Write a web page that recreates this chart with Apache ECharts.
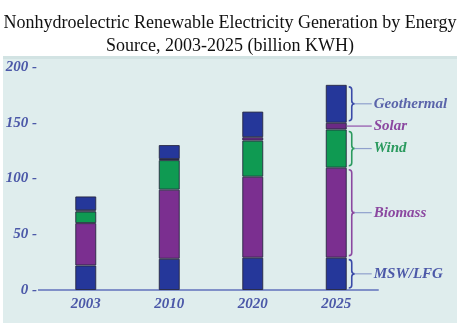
<!DOCTYPE html>
<html><head><meta charset="utf-8">
<script src="https://cdn.jsdelivr.net/npm/echarts@6/dist/echarts.min.js"></script>
<style>html,body{margin:0;padding:0;background:#fff}#c{width:460px;height:325px}</style>
</head><body><div id="c"></div>
<script>
var years = ['2003', '2010', '2020', '2025'];
var mswLfg = [22, 28, 29, 29];
var biomass = [38, 62, 72.6, 80.7];
var wind = [10.4, 26.5, 32.4, 34.3];
var solar = [1, 1, 3, 6];
var geothermal = [12.5, 12.5, 23, 34];
var yTicks = [0, 50, 100, 150, 200];
var sourceNames = ['MSW/LFG', 'Biomass', 'Wind', 'Solar', 'Geothermal'];

var seriesData = [mswLfg, biomass, wind, solar, geothermal];
var barColors = ['#25379a', '#7b2f90', '#0f9a52', '#6b2a85', '#25379a'];
var labelColors = ['#4b58a8', '#8b48a0', '#2a9a5e', '#8b48a0', '#5a64aa'];
var braceColors = ['#3a4aa8', '#8b48a0', '#2a9a5e', '#8b48a0', '#3a4aa8'];

var lastIdx = years.length - 1;
var braceData = [];
var cum = 0;
for (var i = 0; i < seriesData.length; i++) {
  var v = seriesData[i][lastIdx];
  braceData.push([lastIdx, cum, cum + v, i]);
  cum += v;
}

var chart = echarts.init(document.getElementById('c'));
var series = seriesData.map(function (arr, i) {
  return {
    name: sourceNames[i], type: 'bar', stack: 's', barWidth: 21,
    data: arr,
    itemStyle: { color: barColors[i], borderColor: 'rgba(35,35,60,0.85)', borderWidth: 1 },
    silent: true
  };
});
series.push({
  type: 'custom', clip: false, silent: true, z: 5,
  data: braceData,
  renderItem: function (params, api) {
    var cat = api.value(0), lo = api.value(1), hi = api.value(2), k = api.value(3);
    var pLo = api.coord([cat, lo]);
    var pHi = api.coord([cat, hi]);
    var xBar = pLo[0] + 10.5;
    var x0 = xBar + 2;
    var yMid = (pLo[1] + pHi[1]) / 2;
    var yTop = pHi[1] + 2, yBot = pLo[1] - 2;
    var children = [];
    var col = braceColors[k];
    if (k === 3) {
      children.push({ type: 'line', shape: { x1: xBar, y1: yMid, x2: x0 + 23, y2: yMid },
        style: { stroke: '#a070b8', lineWidth: 1.5 } });
    } else {
      var path = 'M' + x0 + ' ' + yTop +
        ' Q' + (x0 + 3) + ' ' + yTop + ' ' + (x0 + 3) + ' ' + (yTop + 3) +
        ' L' + (x0 + 3) + ' ' + (yMid - 3) +
        ' Q' + (x0 + 3) + ' ' + yMid + ' ' + (x0 + 6) + ' ' + yMid +
        ' Q' + (x0 + 3) + ' ' + yMid + ' ' + (x0 + 3) + ' ' + (yMid + 3) +
        ' L' + (x0 + 3) + ' ' + (yBot - 3) +
        ' Q' + (x0 + 3) + ' ' + yBot + ' ' + x0 + ' ' + yBot;
      children.push({ type: 'path', shape: { pathData: path },
        style: { stroke: col, fill: null, lineWidth: 1.6 } });
      children.push({ type: 'line', shape: { x1: x0 + 6, y1: yMid, x2: x0 + 23, y2: yMid },
        style: { stroke: '#8fa0cc', lineWidth: 1.2 } });
    }
    children.push({ type: 'text', x: x0 + 25, y: yMid,
      style: { text: sourceNames[k], fill: labelColors[k], font: 'italic bold 15px "Liberation Serif", serif',
        textVerticalAlign: 'middle', verticalAlign: 'middle' } });
    return { type: 'group', children: children };
  }
});

chart.setOption({
  animation: false,
  backgroundColor: '#ffffff',
  title: {
    text: 'Nonhydroelectric Renewable Electricity Generation by Energy\nSource, 2003-2025 (billion KWH)',
    left: 'center', top: 7,
    textStyle: { fontFamily: '"Liberation Serif", serif', fontSize: 18, fontWeight: 'normal', color: '#111', lineHeight: 23 }
  },
  graphic: [
    { type: 'rect', z: -10, shape: { x: 3, y: 56, width: 454, height: 267 }, style: { fill: '#dfeded' } },
    { type: 'rect', z: -9, shape: { x: 3, y: 56, width: 454, height: 3 }, style: { fill: '#d2e3e3' } },
    { type: 'line', z: -5, shape: { x1: 38, y1: 290, x2: 45, y2: 290 }, style: { stroke: '#8090c8', lineWidth: 2 } }
  ],
  grid: { left: 44, right: 82, top: 67, bottom: 35 },
  xAxis: {
    type: 'category', data: years,
    axisLine: { lineStyle: { color: '#8090c8', width: 2 } },
    axisTick: { show: false },
    axisLabel: { margin: 7, color: '#4b58a8', fontFamily: '"Liberation Serif", serif', fontStyle: 'italic', fontWeight: 'bold', fontSize: 15 }
  },
  yAxis: {
    type: 'value', min: 0, max: 200, interval: 50,
    splitLine: { show: false }, axisLine: { show: false }, axisTick: { show: false },
    axisLabel: {
      margin: 7, color: '#4b58a8', fontFamily: '"Liberation Serif", serif', fontStyle: 'italic', fontWeight: 'bold', fontSize: 15,
      formatter: function (v) { return yTicks.indexOf(v) >= 0 ? v + ' -' : ''; }
    }
  },
  series: series
});
</script></body></html>
